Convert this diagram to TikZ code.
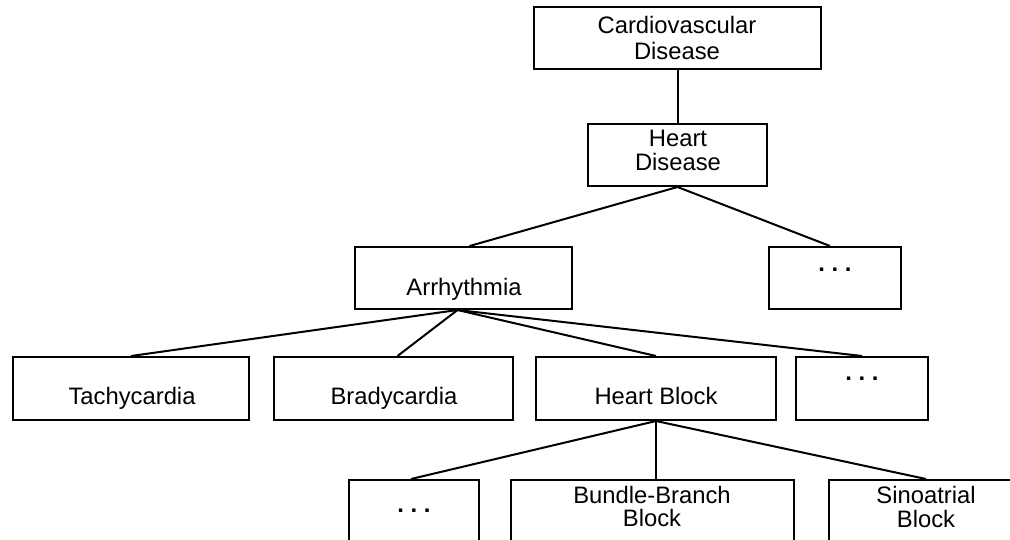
\documentclass[tikz,border=0pt]{standalone}
\usepackage{fontspec}
\setmainfont{Liberation Sans}
\frenchspacing
\begin{document}
\begin{tikzpicture}[x=1pt,y=-1pt,
  box/.style={draw, line width=2pt, rectangle, inner sep=0pt},
  txt/.style={inner sep=0pt, anchor=base, font=\fontsize{23.8}{28}\selectfont},
  dots/.style={txt, font=\fontsize{23.8}{28}\selectfont\bfseries},
  link/.style={line width=2pt}]
\clip (0,0) rectangle (1010,539);
\fill[white] (0,0) rectangle (1010,539);
% boxes
\node[box, minimum width=287pt, minimum height=62pt] (cvd)   at (677.5,38) {};
\node[box, minimum width=179pt, minimum height=62pt] (hd)    at (677.5,155) {};
\node[box, minimum width=217pt, minimum height=62pt] (arr)   at (463.5,278) {};
\node[box, minimum width=132pt, minimum height=62pt] (d1)    at (835,278) {};
\node[box, minimum width=236pt, minimum height=63pt] (tachy) at (131,388.5) {};
\node[box, minimum width=239pt, minimum height=63pt] (brady) at (393.5,388.5) {};
\node[box, minimum width=240pt, minimum height=63pt] (hb)    at (656,388.5) {};
\node[box, minimum width=132pt, minimum height=63pt] (d2)    at (862,388.5) {};
\node[box, minimum width=130pt, minimum height=62pt] (d3)    at (414,511) {};
\node[box, minimum width=283pt, minimum height=62pt] (bbb)   at (652.5,511) {};
\node[box, minimum width=194pt, minimum height=62pt] (sino)  at (926,511) {};
% texts
\node[txt] (cvdA) at (677,33) {Cardiovascular};
\node[txt] (cvdB) at (677,59) {Disease};
\node[txt] (hdA) at (678,146) {Heart};
\node[txt] (hdB) at (678,170) {Disease};
\node[txt] (arrT) at (464,295) {Arrhythmia};
\node[dots] (d1T) at (835,271) {. . .};
\node[txt] (tachyT) at (132,404) {Tachycardia};
\node[txt] (bradyT) at (394,404) {Bradycardia};
\node[txt] (hbT) at (656,404) {Heart Block};
\node[dots] (d2T) at (862,380.5) {. . .};
\node[dots] (d3T) at (414,512) {. . .};
\node[txt] (bbbA) at (652,503) {Bundle-Branch};
\node[txt] (bbbB) at (652,526) {Block};
\node[txt] (sinoA) at (926,503) {Sinoatrial};
\node[txt] (sinoB) at (926,527) {Block};
% connectors
\draw[link] (cvd.south) -- (hd.north);
\draw[link] ([xshift=6pt]arr.north) -- (hd.south) -- ([xshift=-5pt]d1.north);
\draw[link] ([xshift=-6pt]arr.south) -- (tachy.north);
\draw[link] ([xshift=-6pt]arr.south) -- ([xshift=4pt]brady.north);
\draw[link] ([xshift=-6pt]arr.south) -- (hb.north);
\draw[link] ([xshift=-6pt]arr.south) -- (d2.north);
\draw[link] (hb.south) -- ([xshift=-3pt]d3.north);
\draw[link] (hb.south) -- (hb.south |- bbb.north);
\draw[link] (hb.south) -- (sino.north);
\end{tikzpicture}
\end{document}
